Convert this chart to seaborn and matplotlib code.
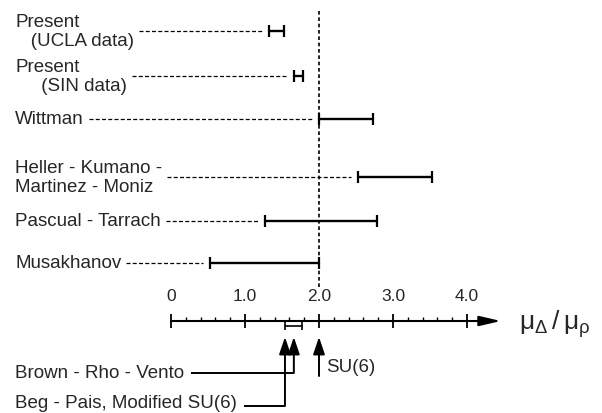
import numpy as np
import pandas as pd
import matplotlib
matplotlib.use("Agg")
import matplotlib.pyplot as plt
import seaborn as sns

# ---- data (mu_Delta / mu_p) ----
studies = ["Present\n   (UCLA data)", "Present\n     (SIN data)", "Wittman",
           "Heller - Kumano -\nMartinez - Moniz", "Pascual - Tarrach", "Musakhanov"]
low = [1.32, 1.66, 2.00, 2.53, 1.27, 0.53]
high = [1.53, 1.79, 2.73, 3.53, 2.78, 2.00]

axis_ticks = [0, 1, 2, 3, 4]
axis_tick_labels = ["0", "1.0", "2.0", "3.0", "4.0"]
bracket = [1.54, 1.77]               # bracket marked on the axis
pointers = {"Brown - Rho - Vento": 1.66, "Beg - Pais, Modified SU(6)": 1.54}
su6 = 2.0

# ---- layout (pixels) ----
W, H = 602, 414
X0, SCALE = 171, 74.0                 # pixel of value 0, pixels per unit
row_y = [32, 77, 120, 178, 222, 264]
axis_y = 322


def px(p):
    return (p - X0) / SCALE


sns.set_style("white")
plt.rcParams["font.family"] = ["Liberation Sans", "DejaVu Sans"]

fig = plt.figure(figsize=(W / 100, H / 100), dpi=100)
ax = fig.add_axes([0, 0, 1, 1])
ax.set_xlim(px(0), px(W))
ax.set_ylim(H, 0)
ax.axis("off")

# intervals with caps
df = pd.DataFrame({"study": studies, "low": low, "high": high, "y": row_y})
long = df.melt(id_vars=["study", "y"], value_vars=["low", "high"], value_name="value")
sns.lineplot(data=long, x="value", y="y", units="study", estimator=None, sort=False,
             color="black", lw=1.7, ax=ax, legend=False)
sns.scatterplot(data=long, x="value", y="y", marker="|", s=70, color="black",
                linewidth=1.6, ax=ax, legend=False)

# labels and dashed leaders
renderer = fig.canvas.get_renderer()
inv = ax.transData.inverted()
for name, lo, y in zip(studies, low, row_y):
    t = ax.text(px(15), y, name, ha="left", va="center", fontsize=13.5, linespacing=1.12)
    bb = t.get_window_extent(renderer)
    start = inv.transform((bb.x1 + 5, 0))[0]
    ax.plot([start, lo - 7 / SCALE], [y, y], color="black", lw=0.9,
            linestyle=(0, (3.2, 1.8)))

# vertical dotted line at SU(6) value
ax.plot([su6, su6], [12, 288], color="black", lw=1.2, linestyle=(0, (2.2, 1.6)))

# number axis with arrow
ax.annotate("", xy=(px(501), axis_y), xytext=(0, axis_y),
            arrowprops=dict(arrowstyle="-|>,head_length=0.65,head_width=0.15",
                            color="black", lw=1.5, mutation_scale=20,
                            shrinkA=0, shrinkB=0))
ax.vlines(axis_ticks, axis_y - 7, axis_y + 7, color="black", lw=1.3)
minor = [m for m in np.arange(0, 4.01, 0.2) if abs(m - round(m)) > 1e-6]
ax.vlines(minor, axis_y - 4, axis_y, color="black", lw=1.0)
for v, lab in zip(axis_ticks, axis_tick_labels):
    ax.text(v, 297, lab, ha="center", va="center", fontsize=12.5)
ax.text(px(519), axis_y + 2, r"$\mathregular{\mu_{\Delta}\,/\,\mu_{\rho}}$",
        ha="left", va="center", fontsize=19)

# bracket on the axis
ax.plot(bracket, [axis_y + 5, axis_y + 5], color="black", lw=1.2)
ax.vlines(bracket, axis_y, axis_y + 9, color="black", lw=1.2)

# pointer arrows below the axis
arrow_kw = dict(arrowstyle="-|>,head_length=0.65,head_width=0.22", color="black",
                lw=1.4, mutation_scale=16, shrinkA=0, shrinkB=0)
pointer_y = {"Brown - Rho - Vento": 374, "Beg - Pais, Modified SU(6)": 407}
text_y = {"Brown - Rho - Vento": 374, "Beg - Pais, Modified SU(6)": 404}
for name, v in pointers.items():
    yb = pointer_y[name]
    ax.annotate("", xy=(v, 338), xytext=(v, yb), arrowprops=arrow_kw)
    t = ax.text(px(15), text_y[name], name, ha="left", va="center", fontsize=13.5)
    bb = t.get_window_extent(renderer)
    start = inv.transform((bb.x1 + 7, 0))[0]
    ax.plot([start, v], [yb, yb], color="black", lw=1.4, solid_capstyle="butt")

ax.annotate("", xy=(su6, 338), xytext=(su6, 377), arrowprops=arrow_kw)
ax.text(su6 + 7 / SCALE, 368, "SU(6)", ha="left", va="center", fontsize=13.5)

fig.savefig("out.png", dpi=100)
